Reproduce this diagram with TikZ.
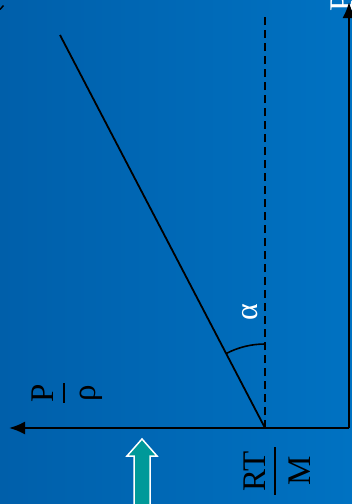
\documentclass[tikz,border=0pt]{standalone}
\usepackage{fontspec}
\setmainfont{Liberation Serif}
\usetikzlibrary{arrows.meta}
\definecolor{bgL}{RGB}{0,95,170}
\definecolor{bgR}{RGB}{0,114,194}
\definecolor{tealfill}{RGB}{0,153,153}
\begin{document}
\begin{tikzpicture}[x=1pt,y=1pt,
  axis/.style={line width=2pt,-{Latex[length=16pt,width=13pt]}},
  lbl/.style={rotate=90,inner sep=0pt,anchor=base,font=\fontsize{33}{39}\selectfont},
  fracbar/.style={line width=2pt}]
\useasboundingbox (0,0) rectangle (352,-504);
\shade[left color=bgL,right color=bgR] (0,0) rectangle (352,-504);
% axis label P (cut at top edge), drawn beneath the axis arrow
\node[lbl,text=white,anchor=base west] (P) at (352,-11.5) {P};
% coordinates
\coordinate (O) at (349,-428);
\coordinate (Xtip) at (9,-428);
\coordinate (Ytip) at (349,-2);
\coordinate (D0) at (265,-428);
\coordinate (D1) at (265,-17);
\coordinate (S1) at (60,-35);
% axes
\draw[axis] (O) -- (Xtip);
\draw[axis] (O) -- (Ytip);
% dashed vertical
\draw[line width=1.8pt,dash pattern=on 8pt off 5pt] (D0) -- (D1);
% slanted line
\draw[line width=1.8pt] (D0) -- (S1);
% angle arc
\draw[line width=1.6pt] (265,-344) arc[start angle=90,end angle=117.5,radius=84];
% labels
\node[lbl,text=white,anchor=center,font=\fontsize{32}{38}\selectfont] (alpha) at (250.5,-312.5) {α};
% P / rho
\node[lbl] (pnum) at (53,-393) {P};
\node[lbl] (rhoden) at (95,-393) {ρ};
\coordinate (pb1) at (64,-383);
\coordinate (pb2) at (64,-403);
\draw[fracbar] (pb1) -- (pb2);
% RT / M
\node[lbl] (rtnum) at (265,-471) {RT};
\node[lbl] (mden) at (310,-471) {M};
\coordinate (rb1) at (275,-447);
\coordinate (rb2) at (275,-495);
\draw[fracbar] (rb1) -- (rb2);
% block arrow
\draw[white,line width=1.5pt,fill=tealfill,line join=miter]
  (142,-439) -- (157,-456) -- (150,-456) -- (150,-508) -- (134,-508) -- (134,-456) -- (127,-456) -- cycle;
% small tick top-left
\draw[line width=1.5pt] (0,-9.5) -- (3.5,-5.5);
\end{tikzpicture}
\end{document}
